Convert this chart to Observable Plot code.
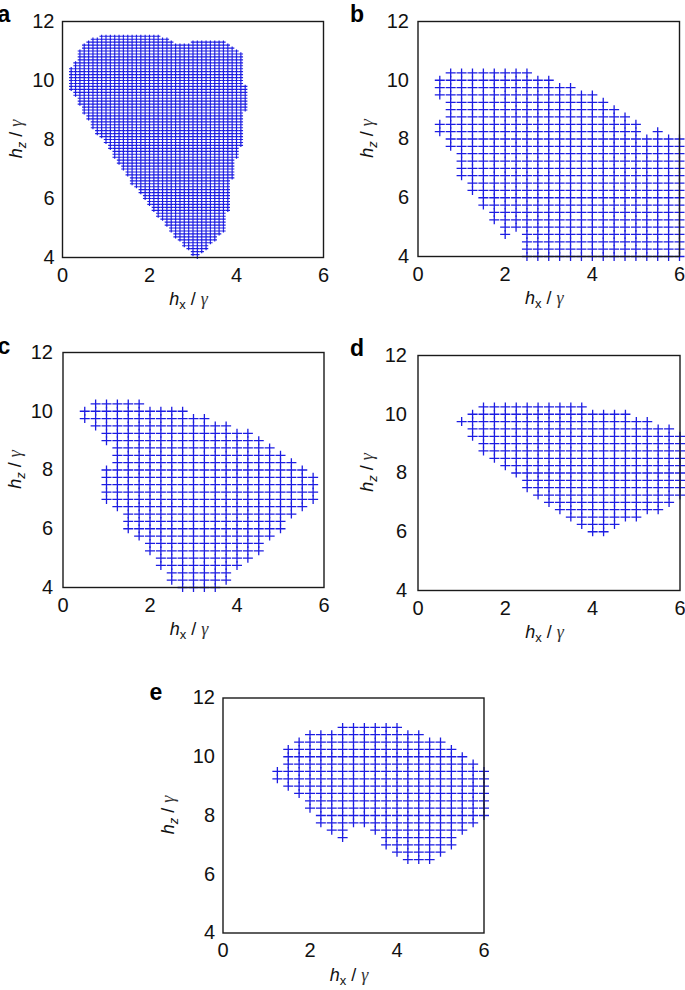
<!DOCTYPE html>
<html><head><meta charset="utf-8">
<script src="https://cdn.jsdelivr.net/npm/d3@7"></script>
<script src="https://cdn.jsdelivr.net/npm/@observablehq/plot@0.6"></script>
<style>
html,body{margin:0;padding:0;background:#fff;}
#page{position:relative;width:685px;height:990px;overflow:hidden;}
#page svg{position:absolute;left:0;top:0;}
</style></head><body><div id="page"></div>
<script>
// ---- data ----
const xTicks = [0, 2, 4, 6];
const yTicks = [4, 6, 8, 10, 12];
const panelLetters = ["a", "b", "c", "d", "e"];
const xLabel = ["h", "x", " / ", "γ"];
const yLabel = ["h", "z", " / ", "γ"];

// panel a: outline of the dense region (hx, hz), grid step 0.1
const stepA = 0.1;
const regionA = [
  [0.9,11.55],[2.15,11.55],[2.38,11.42],[2.62,11.26],[2.8,11.26],[3.1,11.38],[3.72,11.38],
  [3.95,11.14],[4.12,10.9],[4.12,9.85],[4.22,9.85],[4.22,9.0],[4.12,8.95],[4.12,7.75],
  [4.03,7.6],[3.95,6.85],[3.84,6.4],[3.84,5.55],[3.72,5.4],[3.72,4.9],[3.6,4.7],[3.36,4.35],
  [3.2,4.15],[3.12,3.97],[3.05,3.97],[2.83,4.35],[2.52,4.8],[2.21,5.37],[1.91,5.93],[1.6,6.5],
  [1.37,7.06],[1.03,7.74],[0.93,8.0],[0.68,8.36],[0.53,8.81],[0.37,9.26],[0.26,9.6],[0.17,9.7],
  [0.17,10.42],[0.3,10.62],[0.34,10.9],[0.45,11.13],[0.6,11.36]
];

// panels b-e: rows [hz, hx from, hx to], grid step 0.25
const stepBE = 0.25;
const rowsB = [
  [10.25,0.75,2.5],[10,0.5,3],[9.75,0.5,3.5],[9.5,0.5,4],[9.25,0.75,4.25],[9,0.75,4.5],
  [8.75,0.75,4.75],[8.5,0.5,5],[8.25,0.5,5],[8.25,5.5,5.5],[8,0.75,6],[7.75,0.75,6],
  [7.5,1,6],[7.25,1,6],[7,1,6],[6.75,1,6],[6.5,1.25,6],[6.25,1.25,6],[6,1.5,6],[5.75,1.5,6],
  [5.5,1.75,6],[5.25,1.75,6],[5,2,6],[4.75,2,2],[4.75,2.5,6],[4.5,2.5,6],[4.25,2.5,6],[4,2.5,6]
];
const rowsC = [
  [10.25,0.75,1.75],[10,0.5,2.75],[9.75,0.5,3.25],[9.5,0.75,3.75],[9.25,1,4.25],[9,1,4.5],
  [8.75,1.25,4.75],[8.5,1.25,5],[8.25,1.25,5.25],[8,1,5.5],[7.75,1,5.75],[7.5,1,5.75],
  [7.25,1,5.75],[7,1,5.75],[6.75,1.25,5.5],[6.5,1.5,5.25],[6.25,1.5,5],[6,1.5,5],
  [5.75,1.75,4.75],[5.5,2,4.5],[5.25,2,4.5],[5,2.25,4.25],[4.75,2.25,4],[4.5,2.5,3.75],
  [4.25,2.5,3.75],[4,2.75,3.5]
];
const rowsD = [
  [10.25,1.5,3.75],[10,1.25,4.75],[9.75,1,5.25],[9.5,1.25,5.75],[9.25,1.25,6],[9,1.5,6],
  [8.75,1.5,6],[8.5,1.75,6],[8.25,2,6],[8,2.25,6],[7.75,2.5,6],[7.5,2.5,6],[7.25,2.75,6],
  [7,3,5.75],[6.75,3.25,5.5],[6.5,3.5,5],[6.25,3.75,4.5],[6,4,4.25]
];
const rowsE = [
  [11,2.75,4],[10.75,2,4.5],[10.5,1.75,5],[10.25,1.5,5.25],[10,1.5,5.5],[9.75,1.5,5.75],
  [9.5,1.25,6],[9.25,1.25,6],[9,1.5,6],[8.75,1.75,6],[8.5,2,6],[8.25,2,6],[8,2.25,6],
  [7.75,2.25,5.75],[7.5,2.5,2.75],[7.5,3.5,5.5],[7.25,2.75,2.75],[7.25,3.75,5.25],
  [7,3.75,5.25],[6.75,4,5],[6.5,4.25,4.75]
];

// ---- build grid points from the regions ----
function rowsToPoints(rows, step) {
  const pts = [];
  for (const [hz, a, b] of rows) {
    const n = Math.round((b - a) / step);
    for (let i = 0; i <= n; i++) pts.push({hx: +(a + i * step).toFixed(3), hz});
  }
  return pts;
}
function polygonToPoints(poly, step) {
  const pts = [];
  const nx = Math.round(6 / step), ny = Math.round(8 / step);
  for (let j = 0; j <= ny; j++) {
    const hz = +(4 + j * step).toFixed(3);
    for (let i = 0; i <= nx; i++) {
      const hx = +(i * step).toFixed(3);
      if (d3.polygonContains(poly, [hx, hz])) pts.push({hx, hz});
    }
  }
  return pts;
}
function plusSymbol(hx, hy) {
  return {draw(ctx) { ctx.moveTo(-hx, 0); ctx.lineTo(hx, 0); ctx.moveTo(0, -hy); ctx.lineTo(0, hy); }};
}

const W = 685, H = 990;
const panels = [
  {letter: panelLetters[0], pts: polygonToPoints(regionA, stepA), L: 62, R: 323, T: 21, B: 257, pad: 8, yOff: 40, lx: 4, ly: 22, sx: 2.2, sy: 1.6, sw: 1.15},
  {letter: panelLetters[1], pts: rowsToPoints(rowsB, stepBE), L: 417.5, R: 679, T: 21, B: 256, pad: 9, yOff: 45, lx: 357, ly: 22, sx: 5, sy: 4.5, sw: 1.3},
  {letter: panelLetters[2], pts: rowsToPoints(rowsC, stepBE), L: 62.5, R: 323.5, T: 352, B: 587, pad: 10, yOff: 42, lx: 4, ly: 354, sx: 5, sy: 4.5, sw: 1.3},
  {letter: panelLetters[3], pts: rowsToPoints(rowsD, stepBE), L: 417.5, R: 679.5, T: 355, B: 590, pad: 11, yOff: 45, lx: 357, ly: 356, sx: 5, sy: 4.5, sw: 1.3},
  {letter: panelLetters[4], pts: rowsToPoints(rowsE, stepBE), L: 222.5, R: 483.5, T: 697.5, B: 932.5, pad: 8, yOff: 49, lx: 156, ly: 700, sx: 5, sy: 4.5, sw: 1.3}
];

const page = document.getElementById("page");
const sans = "'Liberation Sans', Arial, Helvetica, sans-serif";
const fmt = d3.format("d");

function addLabel(sel, parts, sub) {
  sel.append("tspan").attr("font-style", "italic").text(parts[0]);
  sel.append("tspan").attr("font-size", "13px").attr("dy", 4).attr("font-style", sub).text(parts[1]);
  sel.append("tspan").attr("dy", -4).text(parts[2]);
  sel.append("tspan").attr("font-family", "'Liberation Serif', 'DejaVu Serif', serif").attr("font-style", "italic").attr("fill", "#333").text(parts[3]);
}

for (const p of panels) {
  const svg = Plot.plot({
    width: W, height: H,
    marginLeft: p.L, marginRight: W - p.R, marginTop: p.T, marginBottom: H - p.B,
    x: {domain: [0, 6]},
    y: {domain: [4, 12]},
    style: {background: "transparent", fontFamily: sans, fontSize: "20px", color: "#111", overflow: "visible"},
    marks: [
      Plot.dot(p.pts, {x: "hx", y: "hz", symbol: plusSymbol(p.sx, p.sy), r: 3, fill: "none", stroke: "#1c1ce2", strokeWidth: p.sw}),
      Plot.frame({stroke: "#1a1a1a", strokeWidth: 1.4}),
      Plot.axisX({ticks: xTicks, tickFormat: fmt, tickSize: 0, tickPadding: 10, fontSize: 20, label: null}),
      Plot.axisY({ticks: yTicks, tickFormat: fmt, tickSize: 0, tickPadding: p.pad, fontSize: 20, label: null})
    ]
  });
  const s = d3.select(svg);
  const xl = s.append("text")
    .attr("x", (p.L + p.R) / 2 - 4).attr("y", p.B + 48)
    .attr("text-anchor", "middle").attr("font-family", sans).attr("font-size", "18px").attr("fill", "#111");
  addLabel(xl, xLabel, "normal");
  const yl = s.append("text")
    .attr("transform", `translate(${p.L - p.yOff},${(p.T + p.B) / 2}) rotate(-90)`)
    .attr("text-anchor", "middle").attr("font-family", sans).attr("font-size", "18px").attr("fill", "#111");
  addLabel(yl, yLabel, "italic");
  s.append("text").attr("x", p.lx).attr("y", p.ly)
    .attr("font-family", sans).attr("font-weight", "bold").attr("font-size", "23px").attr("fill", "#000")
    .text(p.letter);
  page.appendChild(svg);
}
</script>
</body></html>
